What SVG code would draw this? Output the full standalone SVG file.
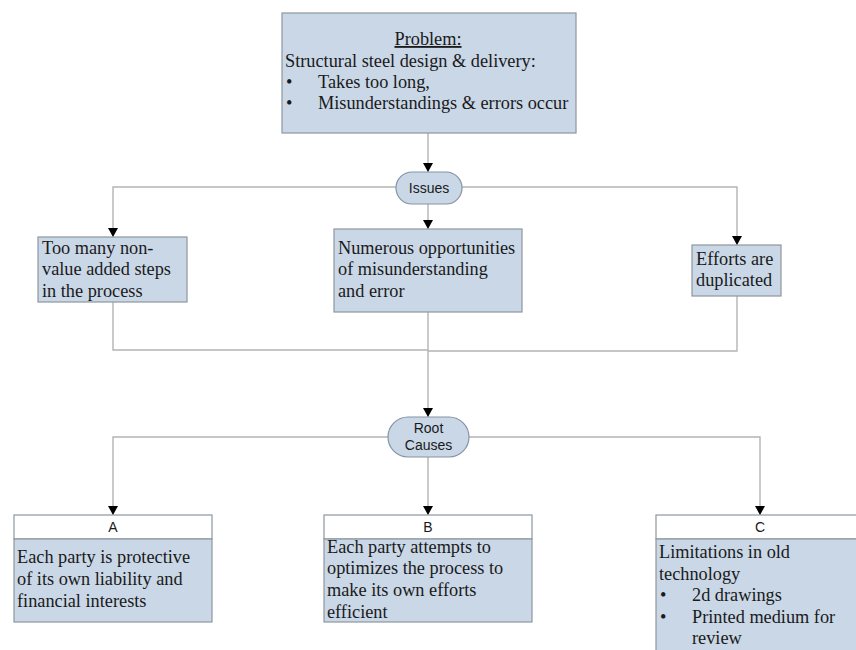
<svg xmlns="http://www.w3.org/2000/svg" width="856" height="650" viewBox="0 0 856 650">
<style>
.box{fill:#c9d7e7;stroke:#8e979f;stroke-width:1.2}
.hdr{fill:#ffffff;stroke:#8e979f;stroke-width:1.2}
.pill{fill:#c9d7e7;stroke:#8593a3;stroke-width:1.2}
.t{font-family:"Liberation Serif","Times New Roman",serif;font-size:18.3px;fill:#1a1a1a}
.s{font-family:"Liberation Sans",Arial,sans-serif;font-size:14px;fill:#1a1a1a;text-anchor:middle}
.c{fill:none;stroke:#b4b4b4;stroke-width:1.4}
</style>
<defs>
<marker id="arr" markerUnits="userSpaceOnUse" markerWidth="9" markerHeight="10" refX="9" refY="5" orient="auto" viewBox="0 0 9 10">
<path d="M0,0 L9,5 L0,10 z" fill="#000"/>
</marker>
</defs>
<g id="connectors">
<path class="c" d="M428,133 L428,172" marker-end="url(#arr)"/>
<path class="c" d="M396,187 L113,187 L113,237" marker-end="url(#arr)"/>
<path class="c" d="M462,187 L737,187 L737,245" marker-end="url(#arr)"/>
<path class="c" d="M428,204 L428,229" marker-end="url(#arr)"/>
<path class="c" d="M113,302 L113,350 L428,350"/>
<path class="c" d="M737,296 L737,351 L428,351"/>
<path class="c" d="M428,312 L428,417" marker-end="url(#arr)"/>
<path class="c" d="M388,437 L113,437 L113,515" marker-end="url(#arr)"/>
<path class="c" d="M469,437 L760,437 L760,515" marker-end="url(#arr)"/>
<path class="c" d="M428,457 L428,515" marker-end="url(#arr)"/>
</g>
<g id="problem">
<rect class="box" x="282" y="13" width="294" height="120"/>
<text class="t" x="428" y="45" text-anchor="middle" font-size="22" text-decoration="underline">Problem:</text>
<text class="t" x="285" y="67">Structural steel design &amp; delivery:</text>
<text class="t" x="286" y="88">•</text>
<text class="t" x="318" y="88">Takes too long,</text>
<text class="t" x="286" y="109">•</text>
<text class="t" x="318" y="109">Misunderstandings &amp; errors occur</text>
</g>
<g id="issues">
<rect class="pill" x="396" y="172" width="66" height="32" rx="16" ry="16"/>
<text class="s" x="429" y="193">Issues</text>
</g>
<g id="issue1">
<rect class="box" x="38" y="237" width="149" height="65"/>
<text class="t" x="42" y="254">Too many non-</text>
<text class="t" x="42" y="275">value added steps</text>
<text class="t" x="42" y="297">in the process</text>
</g>
<g id="issue2">
<rect class="box" x="334" y="229" width="188" height="83"/>
<text class="t" x="338" y="254">Numerous opportunities</text>
<text class="t" x="338" y="275">of misunderstanding</text>
<text class="t" x="338" y="297">and error</text>
</g>
<g id="issue3">
<rect class="box" x="692" y="245" width="89" height="51"/>
<text class="t" x="696" y="265">Efforts are</text>
<text class="t" x="696" y="286">duplicated</text>
</g>
<g id="rootcauses">
<rect class="pill" x="388" y="417" width="81" height="40" rx="20" ry="20"/>
<text class="s" x="428.5" y="433">Root</text>
<text class="s" x="428.5" y="450">Causes</text>
</g>
<g id="causeA">
<rect class="hdr" x="14" y="515" width="198" height="24"/>
<rect class="box" x="14" y="539" width="198" height="83"/>
<text class="s" x="113" y="532">A</text>
<text class="t" x="17" y="563">Each party is protective</text>
<text class="t" x="17" y="585">of its own liability and</text>
<text class="t" x="17" y="607">financial interests</text>
</g>
<g id="causeB">
<rect class="hdr" x="324" y="515" width="208" height="24"/>
<rect class="box" x="324" y="539" width="208" height="83"/>
<text class="s" x="428" y="532">B</text>
<text class="t" x="327" y="553">Each party attempts to</text>
<text class="t" x="327" y="574">optimizes the process to</text>
<text class="t" x="327" y="596">make its own efforts</text>
<text class="t" x="327" y="618">efficient</text>
</g>
<g id="causeC">
<rect class="hdr" x="656" y="515" width="208" height="24"/>
<rect class="box" x="656" y="539" width="208" height="120"/>
<text class="s" x="760" y="532">C</text>
<text class="t" x="659" y="558">Limitations in old</text>
<text class="t" x="659" y="580">technology</text>
<text class="t" x="660" y="601">•</text>
<text class="t" x="692" y="601">2d drawings</text>
<text class="t" x="660" y="623">•</text>
<text class="t" x="692" y="623">Printed medium for</text>
<text class="t" x="692" y="644">review</text>
</g>
</svg>
